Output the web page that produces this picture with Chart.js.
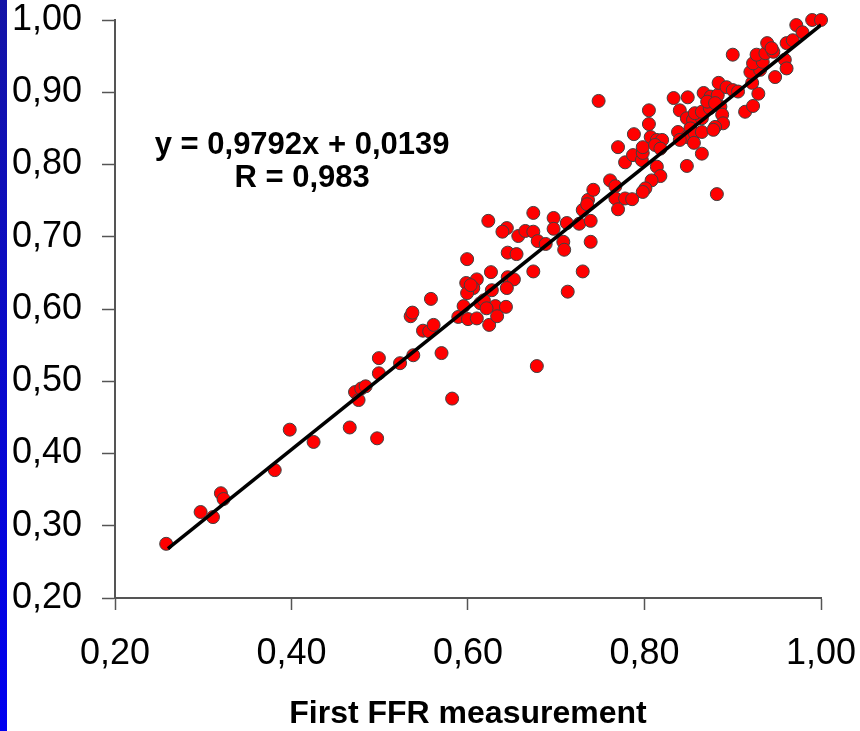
<!DOCTYPE html>
<html>
<head>
<meta charset="utf-8">
<script src="https://cdn.jsdelivr.net/npm/chart.js@4/dist/chart.umd.min.js"></script>
<style>
  html, body { margin: 0; padding: 0; background: #ffffff; }
  #wrap { position: relative; width: 860px; height: 731px; }
  #strip { position: absolute; left: 0; top: 0; width: 7px; height: 731px;
           background: linear-gradient(#1414a6, #0000f0); }
  canvas { position: absolute; left: 0; top: 0; }
</style>
</head>
<body>
<div id="wrap">
  <canvas id="c" width="860" height="731"></canvas>
  <div id="strip"></div>
</div>
<script>
// First FFR measurement (x) and second FFR measurement (y)
const firstFFR = [
  0.258,0.297,0.311,0.320,0.323,0.381,0.398,0.425,0.466,0.497,
  0.472,0.476,0.479,0.484,0.499,0.499,0.523,0.538,0.535,0.537,
  0.549,0.556,0.561,0.558,0.570,0.582,0.589,0.595,0.600,0.610,
  0.614,0.624,0.631,0.643,0.633,0.599,0.626,0.610,0.598,0.606,
  0.599,0.627,0.645,0.652,0.644,0.623,0.644,0.639,0.657,0.665,
  0.674,0.674,0.679,0.697,0.697,0.688,0.712,0.708,0.709,0.726,
  0.645,0.655,0.674,0.730,0.713,0.678,0.603,0.618,0.621,
  0.730,0.736,0.742,0.739,0.739,0.748,0.735,0.761,0.767,0.767,
  0.770,0.778,0.786,0.778,0.770,0.787,0.797,0.798,0.798,0.788,
  0.805,0.805,0.807,0.814,0.820,0.812,0.818,0.814,0.818,0.808,
  0.801,0.798,0.833,0.849,0.840,0.848,0.855,0.865,0.852,0.838,
  0.848,0.857,0.865,0.856,0.840,0.865,0.848,0.882,0.857,0.865,
  0.874,0.886,0.888,0.889,0.880,0.878,0.867,0.875,0.883,0.871,
  0.880,0.884,0.893,0.900,0.906,0.900,0.914,0.923,0.929,0.922,
  0.920,0.931,0.923,0.934,0.927,0.937,0.946,0.939,0.944,0.961,
  0.968,0.959,0.961,0.948,0.972,0.979,0.990,1.000
];
const secondFFR = [
  0.275,0.319,0.312,0.345,0.337,0.377,0.433,0.416,0.436,0.421,
  0.485,0.474,0.490,0.493,0.532,0.511,0.525,0.536,0.590,0.595,
  0.570,0.569,0.578,0.614,0.539,0.476,0.589,0.604,0.586,0.587,
  0.608,0.578,0.604,0.603,0.590,0.669,0.651,0.641,0.636,0.629,
  0.622,0.626,0.644,0.641,0.629,0.722,0.712,0.707,0.701,0.708,
  0.733,0.707,0.694,0.726,0.711,0.690,0.719,0.693,0.682,0.718,
  0.678,0.676,0.652,0.652,0.624,0.521,0.633,0.612,0.601,
  0.737,0.751,0.765,0.722,0.693,0.888,0.745,0.778,0.770,0.753,
  0.738,0.753,0.752,0.803,0.824,0.813,0.806,0.816,0.824,0.842,
  0.856,0.875,0.838,0.834,0.834,0.827,0.822,0.797,0.784,0.778,
  0.767,0.762,0.892,0.893,0.875,0.864,0.862,0.864,0.850,0.845,
  0.838,0.843,0.845,0.830,0.834,0.815,0.798,0.759,0.871,0.873,
  0.878,0.880,0.869,0.857,0.852,0.848,0.899,0.894,0.896,0.887,
  0.885,0.913,0.907,0.903,0.901,0.952,0.873,0.881,0.898,0.913,
  0.928,0.931,0.940,0.942,0.952,0.954,0.956,0.968,0.961,0.968,
  0.972,0.945,0.933,0.921,0.993,0.983,1.000,1.000
];
// Regression line
const slope = 0.9792;
const intercept = 0.0139;
const fitRange = [0.26, 1.00];
const equationLabels = ["y = 0,9792x + 0,0139", "R = 0,983"];
// Axis ticks
const axisMin = 0.2, axisMax = 1.0;
const xStep = 0.2, yStep = 0.1;
const xTitle = "First FFR measurement";

const points = firstFFR.map((x, i) => ({ x: x, y: secondFFR[i] }));
const fitLine = fitRange.map(x => ({ x: x, y: slope * x + intercept }));
const fmt = v => Number(v).toFixed(2).replace('.', ',');
const FONT = "'Liberation Sans', Arial, sans-serif";

const eqPlugin = {
  id: 'eq',
  afterDraw(chart) {
    const ctx = chart.ctx;
    const xs = chart.scales.x, ys = chart.scales.y;
    ctx.save();
    ctx.fillStyle = '#000';
    ctx.font = "bold 31px " + FONT;
    ctx.textAlign = 'center';
    ctx.textBaseline = 'middle';
    const cx = xs.getPixelForValue(0.412);
    ctx.fillText(equationLabels[0], cx, ys.getPixelForValue(0.826));
    ctx.fillText(equationLabels[1], cx, ys.getPixelForValue(0.780));
    ctx.restore();
  }
};

function zeroPad(s) { s.paddingTop = 0; s.paddingBottom = 0; s.paddingLeft = 0; s.paddingRight = 0; }

new Chart(document.getElementById('c'), {
  type: 'scatter',
  data: {
    datasets: [
      {
        type: 'line',
        data: fitLine,
        borderColor: '#000000',
        borderWidth: 3.5,
        pointRadius: 0,
        fill: false,
        order: 0
      },
      {
        data: points,
        backgroundColor: '#ff0000',
        borderColor: '#404040',
        borderWidth: 1,
        pointRadius: 6.5,
        clip: false,
        order: 1
      }
    ]
  },
  plugins: [eqPlugin],
  options: {
    responsive: false,
    animation: false,
    events: [],
    layout: { padding: { left: 0, top: 20, right: 39, bottom: 0 } },
    plugins: { legend: { display: false }, tooltip: { enabled: false } },
    scales: {
      x: {
        type: 'linear',
        min: axisMin, max: axisMax,
        afterFit: s => { s.height = 133; zeroPad(s); },
        afterBuildTicks: s => {
          const t = [];
          for (let v = axisMin; v <= axisMax + 1e-9; v += xStep) t.push({ value: Math.round(v * 100) / 100 });
          s.ticks = t;
        },
        ticks: {
          callback: fmt, color: '#000', padding: 24,
          font: { family: FONT, size: 36, lineHeight: 1.1 }, maxRotation: 0
        },
        grid: { drawOnChartArea: false, drawTicks: true, tickLength: 12, tickColor: '#555', tickWidth: 1.5 },
        border: { color: '#555', width: 2 },
        title: {
          display: true, text: xTitle, color: '#000',
          font: { family: FONT, size: 32, weight: 'bold', lineHeight: 1 },
          padding: { top: 0, bottom: 1 }
        }
      },
      y: {
        type: 'linear',
        min: axisMin, max: axisMax,
        afterFit: s => { s.width = 115; zeroPad(s); },
        afterBuildTicks: s => {
          const t = [];
          for (let v = axisMin; v <= axisMax + 1e-9; v += yStep) t.push({ value: Math.round(v * 100) / 100 });
          s.ticks = t;
        },
        ticks: {
          callback: fmt, color: '#000', padding: 20,
          font: { family: FONT, size: 36, lineHeight: 1 }
        },
        grid: { drawOnChartArea: false, drawTicks: true, tickLength: 13, tickColor: '#555', tickWidth: 1.5 },
        border: { color: '#555', width: 2 }
      }
    }
  }
});
</script>
</body>
</html>
